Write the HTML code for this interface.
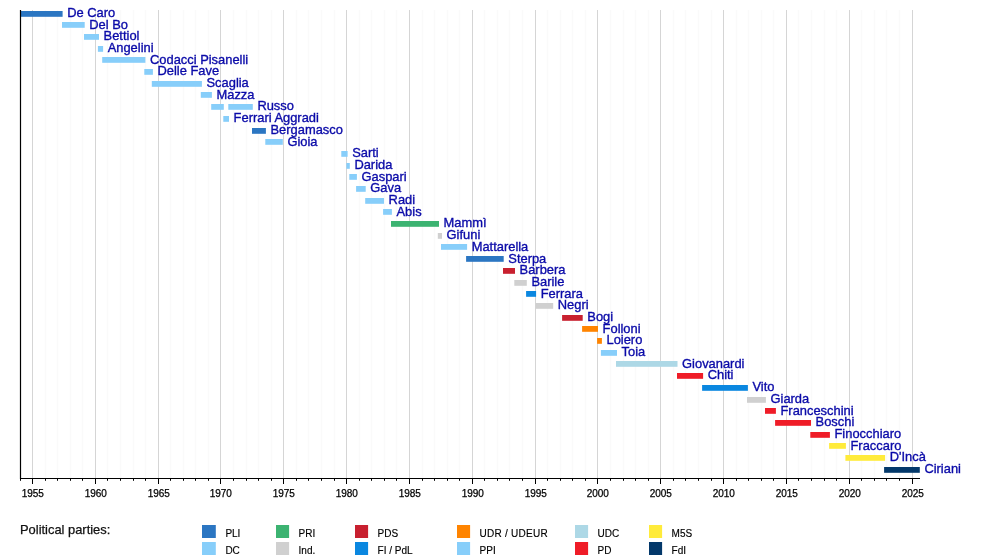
<!DOCTYPE html>
<html lang="it"><head><meta charset="utf-8"><title>Timeline</title>
<style>
html,body{margin:0;padding:0;background:#fff}
svg{display:block}
text{font-family:"Liberation Sans",Arial,Helvetica,sans-serif}
.n{font-size:12.9px;fill:#0a0aa8;stroke:#0a0aa8;stroke-width:0.35px}
.y{font-size:10px;fill:#000;stroke:#000;stroke-width:0.25px;text-anchor:middle}
.l{font-size:10px;fill:#000;stroke:#000;stroke-width:0.15px}
.t{font-size:12.9px;fill:#111;stroke:#111;stroke-width:0.25px}
</style></head><body>
<svg width="1000" height="558" viewBox="0 0 1000 558">
<rect width="1000" height="558" fill="#ffffff"/>
<path d="M45.50 10 V478.5 M57.50 10 V478.5 M70.50 10 V478.5 M82.50 10 V478.5 M107.50 10 V478.5 M120.50 10 V478.5 M133.50 10 V478.5 M145.50 10 V478.5 M170.50 10 V478.5 M183.50 10 V478.5 M195.50 10 V478.5 M208.50 10 V478.5 M233.50 10 V478.5 M246.50 10 V478.5 M258.50 10 V478.5 M271.50 10 V478.5 M296.50 10 V478.5 M308.50 10 V478.5 M321.50 10 V478.5 M334.50 10 V478.5 M359.50 10 V478.5 M371.50 10 V478.5 M384.50 10 V478.5 M396.50 10 V478.5 M422.50 10 V478.5 M434.50 10 V478.5 M447.50 10 V478.5 M459.50 10 V478.5 M484.50 10 V478.5 M497.50 10 V478.5 M509.50 10 V478.5 M522.50 10 V478.5 M547.50 10 V478.5 M560.50 10 V478.5 M572.50 10 V478.5 M585.50 10 V478.5 M610.50 10 V478.5 M623.50 10 V478.5 M635.50 10 V478.5 M648.50 10 V478.5 M673.50 10 V478.5 M685.50 10 V478.5 M698.50 10 V478.5 M711.50 10 V478.5 M736.50 10 V478.5 M748.50 10 V478.5 M761.50 10 V478.5 M773.50 10 V478.5 M798.50 10 V478.5 M811.50 10 V478.5 M824.50 10 V478.5 M836.50 10 V478.5 M861.50 10 V478.5 M874.50 10 V478.5 M886.50 10 V478.5 M899.50 10 V478.5" stroke="#fafafa" stroke-width="1.6" fill="none"/>
<path d="M32.50 10 V478.5 M95.50 10 V478.5 M158.50 10 V478.5 M220.50 10 V478.5 M283.50 10 V478.5 M346.50 10 V478.5 M409.50 10 V478.5 M472.50 10 V478.5 M535.50 10 V478.5 M597.50 10 V478.5 M660.50 10 V478.5 M723.50 10 V478.5 M786.50 10 V478.5 M849.50 10 V478.5 M912.50 10 V478.5" stroke="#d5d5d5" stroke-width="1" fill="none"/>
<rect x="20.5" y="11.00" width="42.1" height="5.8" fill="#2b76c2"/>
<text class="n" x="67.2" y="16.90">De Caro</text>
<rect x="62.0" y="22.00" width="22.7" height="5.8" fill="#87cefa"/>
<text class="n" x="89.3" y="28.60">Del Bo</text>
<rect x="84.0" y="34.00" width="15.0" height="5.8" fill="#87cefa"/>
<text class="n" x="103.6" y="40.29">Bettiol</text>
<rect x="97.9" y="46.00" width="5.2" height="5.8" fill="#87cefa"/>
<text class="n" x="107.7" y="51.99">Angelini</text>
<rect x="102.2" y="57.00" width="43.2" height="5.8" fill="#87cefa"/>
<text class="n" x="150.0" y="63.69">Codacci Pisanelli</text>
<rect x="144.3" y="69.00" width="8.6" height="5.8" fill="#87cefa"/>
<text class="n" x="157.5" y="75.38">Delle Fave</text>
<rect x="151.8" y="81.00" width="50.1" height="5.8" fill="#87cefa"/>
<text class="n" x="206.5" y="87.08">Scaglia</text>
<rect x="200.8" y="92.00" width="11.1" height="5.8" fill="#87cefa"/>
<text class="n" x="216.5" y="98.78">Mazza</text>
<rect x="211.2" y="104.00" width="12.6" height="5.8" fill="#87cefa"/>
<rect x="228.3" y="104.00" width="24.5" height="5.8" fill="#87cefa"/>
<text class="n" x="257.4" y="110.47">Russo</text>
<rect x="223.3" y="116.00" width="5.7" height="5.8" fill="#87cefa"/>
<text class="n" x="233.6" y="122.17">Ferrari Aggradi</text>
<rect x="252.0" y="128.00" width="13.9" height="5.8" fill="#2b76c2"/>
<text class="n" x="270.5" y="133.87">Bergamasco</text>
<rect x="265.3" y="139.00" width="17.5" height="5.8" fill="#87cefa"/>
<text class="n" x="287.4" y="145.56">Gioia</text>
<rect x="341.3" y="151.00" width="6.3" height="5.8" fill="#87cefa"/>
<text class="n" x="352.2" y="157.26">Sarti</text>
<rect x="346.4" y="163.00" width="3.4" height="5.8" fill="#87cefa"/>
<text class="n" x="354.4" y="168.95">Darida</text>
<rect x="349.3" y="174.00" width="7.6" height="5.8" fill="#87cefa"/>
<text class="n" x="361.5" y="180.65">Gaspari</text>
<rect x="356.1" y="186.00" width="9.6" height="5.8" fill="#87cefa"/>
<text class="n" x="370.3" y="192.35">Gava</text>
<rect x="365.2" y="198.00" width="18.8" height="5.8" fill="#87cefa"/>
<text class="n" x="388.6" y="204.04">Radi</text>
<rect x="383.1" y="209.00" width="8.8" height="5.8" fill="#87cefa"/>
<text class="n" x="396.5" y="215.74">Abis</text>
<rect x="391.0" y="221.00" width="48.0" height="5.8" fill="#3cb371"/>
<text class="n" x="443.6" y="227.44">Mammì</text>
<rect x="437.8" y="233.00" width="4.2" height="5.8" fill="#d0d0d0"/>
<text class="n" x="446.6" y="239.13">Gifuni</text>
<rect x="441.0" y="244.00" width="26.1" height="5.8" fill="#87cefa"/>
<text class="n" x="471.7" y="250.83">Mattarella</text>
<rect x="466.1" y="256.00" width="37.6" height="5.8" fill="#2b76c2"/>
<text class="n" x="508.3" y="262.53">Sterpa</text>
<rect x="503.0" y="268.00" width="12.0" height="5.8" fill="#c8202f"/>
<text class="n" x="519.6" y="274.22">Barbera</text>
<rect x="514.3" y="280.00" width="12.5" height="5.8" fill="#d0d0d0"/>
<text class="n" x="531.4" y="285.92">Barile</text>
<rect x="526.1" y="291.00" width="10.0" height="5.8" fill="#0a87e0"/>
<text class="n" x="540.7" y="297.62">Ferrara</text>
<rect x="535.6" y="303.00" width="17.6" height="5.8" fill="#d0d0d0"/>
<text class="n" x="557.8" y="309.31">Negri</text>
<rect x="562.1" y="315.00" width="20.6" height="5.8" fill="#c8202f"/>
<text class="n" x="587.3" y="321.01">Bogi</text>
<rect x="582.1" y="326.00" width="15.9" height="5.8" fill="#ff8400"/>
<text class="n" x="602.6" y="332.71">Folloni</text>
<rect x="597.1" y="338.00" width="4.8" height="5.8" fill="#ff8400"/>
<text class="n" x="606.5" y="344.40">Loiero</text>
<rect x="600.9" y="350.00" width="16.1" height="5.8" fill="#87cefa"/>
<text class="n" x="621.6" y="356.10">Toia</text>
<rect x="616.0" y="361.00" width="61.5" height="5.8" fill="#add8e6"/>
<text class="n" x="682.1" y="367.79">Giovanardi</text>
<rect x="677.0" y="373.00" width="26.1" height="5.8" fill="#ef1c27"/>
<text class="n" x="707.7" y="379.49">Chiti</text>
<rect x="702.1" y="385.00" width="45.8" height="5.8" fill="#0a87e0"/>
<text class="n" x="752.5" y="391.19">Vito</text>
<rect x="747.0" y="397.00" width="18.9" height="5.8" fill="#d0d0d0"/>
<text class="n" x="770.5" y="402.88">Giarda</text>
<rect x="765.0" y="408.00" width="10.9" height="5.8" fill="#ef1c27"/>
<text class="n" x="780.5" y="414.58">Franceschini</text>
<rect x="775.1" y="420.00" width="35.9" height="5.8" fill="#ef1c27"/>
<text class="n" x="815.6" y="426.28">Boschi</text>
<rect x="810.3" y="432.00" width="19.6" height="5.8" fill="#ef1c27"/>
<text class="n" x="834.5" y="437.97">Finocchiaro</text>
<rect x="829.1" y="443.00" width="16.8" height="5.8" fill="#ffeb3b"/>
<text class="n" x="850.5" y="449.67">Fraccaro</text>
<rect x="845.4" y="455.00" width="39.7" height="5.8" fill="#ffeb3b"/>
<text class="n" x="889.7" y="461.37">D'Incà</text>
<rect x="884.1" y="467.00" width="35.7" height="5.8" fill="#03386a"/>
<text class="n" x="924.4" y="473.06">Ciriani</text>
<path d="M20.5 10 V479.0" stroke="#000" stroke-width="1.2" fill="none"/>
<path d="M20 478.5 H920" stroke="#000" stroke-width="1.1" fill="none"/>
<path d="M20.50 478.5 v2.3 M32.50 478.5 v5.5 M45.50 478.5 v2.3 M57.50 478.5 v2.3 M70.50 478.5 v2.3 M82.50 478.5 v2.3 M95.50 478.5 v5.5 M107.50 478.5 v2.3 M120.50 478.5 v2.3 M133.50 478.5 v2.3 M145.50 478.5 v2.3 M158.50 478.5 v5.5 M170.50 478.5 v2.3 M183.50 478.5 v2.3 M195.50 478.5 v2.3 M208.50 478.5 v2.3 M220.50 478.5 v5.5 M233.50 478.5 v2.3 M246.50 478.5 v2.3 M258.50 478.5 v2.3 M271.50 478.5 v2.3 M283.50 478.5 v5.5 M296.50 478.5 v2.3 M308.50 478.5 v2.3 M321.50 478.5 v2.3 M334.50 478.5 v2.3 M346.50 478.5 v5.5 M359.50 478.5 v2.3 M371.50 478.5 v2.3 M384.50 478.5 v2.3 M396.50 478.5 v2.3 M409.50 478.5 v5.5 M422.50 478.5 v2.3 M434.50 478.5 v2.3 M447.50 478.5 v2.3 M459.50 478.5 v2.3 M472.50 478.5 v5.5 M484.50 478.5 v2.3 M497.50 478.5 v2.3 M509.50 478.5 v2.3 M522.50 478.5 v2.3 M535.50 478.5 v5.5 M547.50 478.5 v2.3 M560.50 478.5 v2.3 M572.50 478.5 v2.3 M585.50 478.5 v2.3 M597.50 478.5 v5.5 M610.50 478.5 v2.3 M623.50 478.5 v2.3 M635.50 478.5 v2.3 M648.50 478.5 v2.3 M660.50 478.5 v5.5 M673.50 478.5 v2.3 M685.50 478.5 v2.3 M698.50 478.5 v2.3 M711.50 478.5 v2.3 M723.50 478.5 v5.5 M736.50 478.5 v2.3 M748.50 478.5 v2.3 M761.50 478.5 v2.3 M773.50 478.5 v2.3 M786.50 478.5 v5.5 M798.50 478.5 v2.3 M811.50 478.5 v2.3 M824.50 478.5 v2.3 M836.50 478.5 v2.3 M849.50 478.5 v5.5 M861.50 478.5 v2.3 M874.50 478.5 v2.3 M886.50 478.5 v2.3 M899.50 478.5 v2.3 M912.50 478.5 v5.5" stroke="#000" stroke-width="1" fill="none"/>
<text class="y" x="32.80" y="497">1955</text>
<text class="y" x="95.80" y="497">1960</text>
<text class="y" x="158.80" y="497">1965</text>
<text class="y" x="220.80" y="497">1970</text>
<text class="y" x="283.80" y="497">1975</text>
<text class="y" x="346.80" y="497">1980</text>
<text class="y" x="409.80" y="497">1985</text>
<text class="y" x="472.80" y="497">1990</text>
<text class="y" x="535.80" y="497">1995</text>
<text class="y" x="597.80" y="497">2000</text>
<text class="y" x="660.80" y="497">2005</text>
<text class="y" x="723.80" y="497">2010</text>
<text class="y" x="786.80" y="497">2015</text>
<text class="y" x="849.80" y="497">2020</text>
<text class="y" x="912.80" y="497">2025</text>
<text class="t" x="20" y="534">Political parties:</text>
<rect x="202" y="525" width="13.8" height="13" fill="#2b76c2"/>
<text class="l" x="225.4" y="536.9">PLI</text>
<rect x="202" y="542" width="13.8" height="13" fill="#87cefa"/>
<text class="l" x="225.4" y="553.9">DC</text>
<rect x="276" y="525" width="13.1" height="13" fill="#3cb371"/>
<text class="l" x="298.6" y="536.9">PRI</text>
<rect x="276" y="542" width="13.1" height="13" fill="#d0d0d0"/>
<text class="l" x="298.6" y="553.9">Ind.</text>
<rect x="355" y="525" width="13.1" height="13" fill="#c8202f"/>
<text class="l" x="377.6" y="536.9">PDS</text>
<rect x="355" y="542" width="13.1" height="13" fill="#0a87e0"/>
<text class="l" x="377.6" y="553.9">FI / PdL</text>
<rect x="457" y="525" width="13.1" height="13" fill="#ff8400"/>
<text class="l" x="479.6" y="536.9" letter-spacing="0.25">UDR / UDEUR</text>
<rect x="457" y="542" width="13.1" height="13" fill="#87cefa"/>
<text class="l" x="479.6" y="553.9">PPI</text>
<rect x="575" y="525" width="13.1" height="13" fill="#add8e6"/>
<text class="l" x="597.6" y="536.9">UDC</text>
<rect x="575" y="542" width="13.1" height="13" fill="#ef1c27"/>
<text class="l" x="597.6" y="553.9">PD</text>
<rect x="649" y="525" width="13.1" height="13" fill="#ffeb3b"/>
<text class="l" x="671.6" y="536.9">M5S</text>
<rect x="649" y="542" width="13.1" height="13" fill="#03386a"/>
<text class="l" x="671.6" y="553.9">FdI</text>
</svg></body></html>
